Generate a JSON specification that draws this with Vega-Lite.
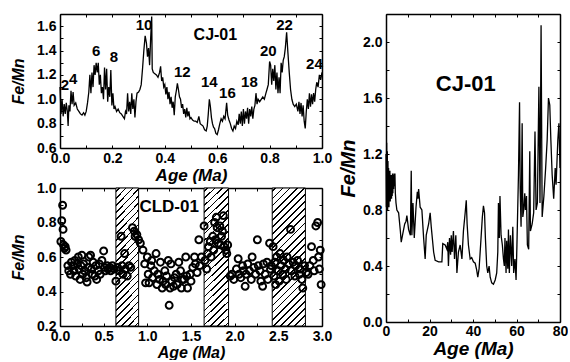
{
"$schema":"https://vega.github.io/schema/vega-lite/v6.json",
"padding":{"left":10,"top":7,"right":0,"bottom":0},
"background":"white",
"config":{
 "view":{"stroke":null},
 "axis":{"domainColor":"black","domainWidth":1.5,"tickColor":"black","tickWidth":1,"tickSize":-3,"grid":false,"labelFlush":false,"labelOverlap":false,"labelFont":"Liberation Sans","labelFontWeight":"bold","labelFontSize":14,"labelColor":"black","titleFont":"Liberation Sans","titleFontWeight":"bold","titleFontStyle":"italic","titleColor":"black"},
 "text":{"font":"Liberation Sans","fontWeight":"bold","color":"black"}
},
"datasets":{
 "cjshort":[{"age":0,"ratio":1.1},{"age":0.004,"ratio":0.88},{"age":0.008,"ratio":1.0},{"age":0.012,"ratio":0.86},{"age":0.016,"ratio":0.96},{"age":0.02,"ratio":0.88},{"age":0.024,"ratio":0.97},{"age":0.028,"ratio":0.9},{"age":0.031,"ratio":0.78},{"age":0.034,"ratio":0.95},{"age":0.038,"ratio":0.9},{"age":0.042,"ratio":1.07},{"age":0.046,"ratio":0.96},{"age":0.05,"ratio":1.06},{"age":0.054,"ratio":0.95},{"age":0.06,"ratio":0.97},{"age":0.066,"ratio":0.92},{"age":0.072,"ratio":0.9},{"age":0.078,"ratio":0.88},{"age":0.084,"ratio":0.87},{"age":0.09,"ratio":0.89},{"age":0.095,"ratio":0.87},{"age":0.1,"ratio":0.9},{"age":0.105,"ratio":0.97},{"age":0.11,"ratio":1.06},{"age":0.114,"ratio":1.2},{"age":0.118,"ratio":1.05},{"age":0.122,"ratio":1.22},{"age":0.126,"ratio":1.1},{"age":0.13,"ratio":1.28},{"age":0.134,"ratio":1.2},{"age":0.138,"ratio":1.3},{"age":0.142,"ratio":1.22},{"age":0.146,"ratio":1.3},{"age":0.15,"ratio":1.12},{"age":0.154,"ratio":1.2},{"age":0.158,"ratio":1.05},{"age":0.162,"ratio":1.1},{"age":0.166,"ratio":1.0},{"age":0.17,"ratio":1.26},{"age":0.174,"ratio":1.08},{"age":0.178,"ratio":1.25},{"age":0.182,"ratio":0.98},{"age":0.186,"ratio":1.1},{"age":0.19,"ratio":1.02},{"age":0.194,"ratio":1.24},{"age":0.198,"ratio":0.95},{"age":0.202,"ratio":1.05},{"age":0.206,"ratio":0.92},{"age":0.21,"ratio":0.94},{"age":0.216,"ratio":0.9},{"age":0.222,"ratio":0.92},{"age":0.228,"ratio":0.89},{"age":0.234,"ratio":0.88},{"age":0.24,"ratio":0.86},{"age":0.246,"ratio":0.84},{"age":0.25,"ratio":0.9},{"age":0.254,"ratio":0.88},{"age":0.258,"ratio":1.05},{"age":0.262,"ratio":0.9},{"age":0.266,"ratio":0.98},{"age":0.27,"ratio":0.88},{"age":0.274,"ratio":1.05},{"age":0.278,"ratio":0.92},{"age":0.282,"ratio":1.0},{"age":0.286,"ratio":0.85},{"age":0.29,"ratio":0.98},{"age":0.294,"ratio":1.05},{"age":0.3,"ratio":1.06},{"age":0.305,"ratio":1.08},{"age":0.31,"ratio":1.12},{"age":0.315,"ratio":1.25},{"age":0.32,"ratio":1.4},{"age":0.325,"ratio":1.52},{"age":0.33,"ratio":1.46},{"age":0.334,"ratio":1.35},{"age":0.338,"ratio":1.42},{"age":0.342,"ratio":1.28},{"age":0.346,"ratio":1.5},{"age":0.35,"ratio":1.68},{"age":0.352,"ratio":1.25},{"age":0.356,"ratio":1.22},{"age":0.362,"ratio":1.21},{"age":0.368,"ratio":1.2},{"age":0.374,"ratio":1.18},{"age":0.38,"ratio":1.22},{"age":0.384,"ratio":1.27},{"age":0.388,"ratio":1.15},{"age":0.392,"ratio":1.18},{"age":0.396,"ratio":1.1},{"age":0.4,"ratio":1.12},{"age":0.404,"ratio":1.04},{"age":0.408,"ratio":1.1},{"age":0.412,"ratio":1.0},{"age":0.416,"ratio":1.06},{"age":0.42,"ratio":0.96},{"age":0.424,"ratio":1.02},{"age":0.428,"ratio":0.93},{"age":0.432,"ratio":0.98},{"age":0.436,"ratio":0.87},{"age":0.44,"ratio":1.02},{"age":0.444,"ratio":1.07},{"age":0.448,"ratio":1.13},{"age":0.452,"ratio":1.08},{"age":0.456,"ratio":1.02},{"age":0.46,"ratio":1.0},{"age":0.464,"ratio":0.93},{"age":0.468,"ratio":0.96},{"age":0.472,"ratio":0.88},{"age":0.476,"ratio":0.92},{"age":0.48,"ratio":0.85},{"age":0.484,"ratio":0.93},{"age":0.488,"ratio":0.86},{"age":0.492,"ratio":0.9},{"age":0.496,"ratio":0.84},{"age":0.5,"ratio":0.85},{"age":0.506,"ratio":0.83},{"age":0.512,"ratio":0.82},{"age":0.518,"ratio":0.82},{"age":0.524,"ratio":0.81},{"age":0.53,"ratio":0.86},{"age":0.535,"ratio":0.8},{"age":0.54,"ratio":0.79},{"age":0.546,"ratio":0.78},{"age":0.552,"ratio":0.75},{"age":0.558,"ratio":0.74},{"age":0.562,"ratio":0.78},{"age":0.566,"ratio":0.88},{"age":0.57,"ratio":1.0},{"age":0.574,"ratio":0.94},{"age":0.578,"ratio":0.85},{"age":0.582,"ratio":0.8},{"age":0.586,"ratio":0.77},{"age":0.59,"ratio":0.76},{"age":0.595,"ratio":0.72},{"age":0.6,"ratio":0.71},{"age":0.605,"ratio":0.75},{"age":0.61,"ratio":0.8},{"age":0.615,"ratio":0.84},{"age":0.62,"ratio":0.82},{"age":0.625,"ratio":0.86},{"age":0.63,"ratio":0.84},{"age":0.636,"ratio":0.97},{"age":0.64,"ratio":0.87},{"age":0.645,"ratio":0.83},{"age":0.65,"ratio":0.8},{"age":0.655,"ratio":0.76},{"age":0.66,"ratio":0.74},{"age":0.665,"ratio":0.78},{"age":0.67,"ratio":0.76},{"age":0.675,"ratio":0.82},{"age":0.68,"ratio":0.79},{"age":0.684,"ratio":0.88},{"age":0.688,"ratio":0.8},{"age":0.692,"ratio":0.9},{"age":0.696,"ratio":0.78},{"age":0.7,"ratio":0.92},{"age":0.704,"ratio":0.8},{"age":0.708,"ratio":0.9},{"age":0.712,"ratio":0.84},{"age":0.716,"ratio":0.93},{"age":0.72,"ratio":0.8},{"age":0.724,"ratio":0.92},{"age":0.728,"ratio":0.86},{"age":0.732,"ratio":0.94},{"age":0.736,"ratio":0.84},{"age":0.74,"ratio":0.92},{"age":0.744,"ratio":0.95},{"age":0.748,"ratio":1.05},{"age":0.752,"ratio":0.96},{"age":0.756,"ratio":1.0},{"age":0.762,"ratio":0.98},{"age":0.768,"ratio":1.0},{"age":0.774,"ratio":1.02},{"age":0.78,"ratio":1.0},{"age":0.786,"ratio":1.05},{"age":0.79,"ratio":1.08},{"age":0.795,"ratio":1.12},{"age":0.8,"ratio":1.31},{"age":0.804,"ratio":1.28},{"age":0.808,"ratio":1.12},{"age":0.812,"ratio":1.25},{"age":0.816,"ratio":1.15},{"age":0.82,"ratio":1.28},{"age":0.824,"ratio":1.08},{"age":0.828,"ratio":1.22},{"age":0.832,"ratio":1.05},{"age":0.836,"ratio":1.18},{"age":0.84,"ratio":1.05},{"age":0.844,"ratio":1.3},{"age":0.848,"ratio":1.22},{"age":0.852,"ratio":1.32},{"age":0.856,"ratio":1.35},{"age":0.86,"ratio":1.42},{"age":0.865,"ratio":1.55},{"age":0.87,"ratio":1.38},{"age":0.875,"ratio":1.22},{"age":0.88,"ratio":1.08},{"age":0.885,"ratio":1.0},{"age":0.89,"ratio":0.96},{"age":0.896,"ratio":0.94},{"age":0.902,"ratio":0.96},{"age":0.908,"ratio":0.9},{"age":0.912,"ratio":0.98},{"age":0.916,"ratio":0.88},{"age":0.92,"ratio":0.97},{"age":0.924,"ratio":0.86},{"age":0.928,"ratio":0.95},{"age":0.932,"ratio":0.82},{"age":0.936,"ratio":0.76},{"age":0.94,"ratio":0.9},{"age":0.944,"ratio":1.0},{"age":0.948,"ratio":0.92},{"age":0.952,"ratio":1.05},{"age":0.956,"ratio":0.94},{"age":0.96,"ratio":1.04},{"age":0.964,"ratio":0.96},{"age":0.968,"ratio":1.05},{"age":0.972,"ratio":0.98},{"age":0.976,"ratio":1.08},{"age":0.98,"ratio":1.14},{"age":0.985,"ratio":1.1},{"age":0.99,"ratio":1.2},{"age":0.995,"ratio":1.16},{"age":1.0,"ratio":1.22}],
 "peaks":[{"age":0.019,"ratio":1.115,"label":"2"},{"age":0.05,"ratio":1.17,"label":"4"},{"age":0.138,"ratio":1.4,"label":"6"},{"age":0.206,"ratio":1.35,"label":"8"},{"age":0.321,"ratio":1.61,"label":"10"},{"age":0.467,"ratio":1.22,"label":"12"},{"age":0.57,"ratio":1.14,"label":"14"},{"age":0.639,"ratio":1.05,"label":"16"},{"age":0.723,"ratio":1.14,"label":"18"},{"age":0.795,"ratio":1.4,"label":"20"},{"age":0.857,"ratio":1.61,"label":"22"},{"age":0.971,"ratio":1.29,"label":"24"}],
 "cjlabel1":[{"age":0.593,"ratio":1.53,"label":"CJ-01"}],
 "cld":[{"age":0.01,"ratio":0.69},{"age":0.02,"ratio":0.81},{"age":0.03,"ratio":0.9},{"age":0.035,"ratio":0.76},{"age":0.04,"ratio":0.67},{"age":0.05,"ratio":0.65},{"age":0.06,"ratio":0.66},{"age":0.07,"ratio":0.64},{"age":0.09,"ratio":0.55},{"age":0.1,"ratio":0.52},{"age":0.12,"ratio":0.5},{"age":0.13,"ratio":0.57},{"age":0.15,"ratio":0.55},{"age":0.16,"ratio":0.52},{"age":0.17,"ratio":0.58},{"age":0.18,"ratio":0.49},{"age":0.2,"ratio":0.56},{"age":0.21,"ratio":0.6},{"age":0.22,"ratio":0.53},{"age":0.23,"ratio":0.47},{"age":0.24,"ratio":0.55},{"age":0.25,"ratio":0.61},{"age":0.26,"ratio":0.5},{"age":0.27,"ratio":0.56},{"age":0.28,"ratio":0.52},{"age":0.3,"ratio":0.48},{"age":0.31,"ratio":0.455},{"age":0.32,"ratio":0.54},{"age":0.33,"ratio":0.6},{"age":0.35,"ratio":0.61},{"age":0.36,"ratio":0.53},{"age":0.37,"ratio":0.5},{"age":0.38,"ratio":0.57},{"age":0.4,"ratio":0.49},{"age":0.41,"ratio":0.55},{"age":0.42,"ratio":0.47},{"age":0.44,"ratio":0.52},{"age":0.45,"ratio":0.56},{"age":0.46,"ratio":0.5},{"age":0.48,"ratio":0.58},{"age":0.5,"ratio":0.635},{"age":0.51,"ratio":0.54},{"age":0.52,"ratio":0.52},{"age":0.54,"ratio":0.55},{"age":0.55,"ratio":0.53},{"age":0.57,"ratio":0.54},{"age":0.58,"ratio":0.52},{"age":0.6,"ratio":0.55},{"age":0.62,"ratio":0.53},{"age":0.64,"ratio":0.46},{"age":0.66,"ratio":0.54},{"age":0.68,"ratio":0.52},{"age":0.7,"ratio":0.72},{"age":0.71,"ratio":0.55},{"age":0.72,"ratio":0.5},{"age":0.74,"ratio":0.62},{"age":0.75,"ratio":0.53},{"age":0.77,"ratio":0.49},{"age":0.79,"ratio":0.55},{"age":0.81,"ratio":0.54},{"age":0.83,"ratio":0.77},{"age":0.85,"ratio":0.75},{"age":0.86,"ratio":0.72},{"age":0.88,"ratio":0.73},{"age":0.9,"ratio":0.7},{"age":0.92,"ratio":0.68},{"age":0.95,"ratio":0.64},{"age":0.97,"ratio":0.56},{"age":0.98,"ratio":0.45},{"age":1.0,"ratio":0.6},{"age":1.01,"ratio":0.5},{"age":1.02,"ratio":0.45},{"age":1.04,"ratio":0.55},{"age":1.05,"ratio":0.58},{"age":1.06,"ratio":0.48},{"age":1.08,"ratio":0.52},{"age":1.1,"ratio":0.62},{"age":1.11,"ratio":0.44},{"age":1.12,"ratio":0.5},{"age":1.14,"ratio":0.47},{"age":1.15,"ratio":0.57},{"age":1.17,"ratio":0.42},{"age":1.18,"ratio":0.46},{"age":1.2,"ratio":0.52},{"age":1.21,"ratio":0.44},{"age":1.22,"ratio":0.49},{"age":1.24,"ratio":0.58},{"age":1.25,"ratio":0.32},{"age":1.26,"ratio":0.42},{"age":1.27,"ratio":0.56},{"age":1.28,"ratio":0.46},{"age":1.3,"ratio":0.43},{"age":1.31,"ratio":0.48},{"age":1.33,"ratio":0.5},{"age":1.34,"ratio":0.44},{"age":1.36,"ratio":0.57},{"age":1.38,"ratio":0.52},{"age":1.39,"ratio":0.42},{"age":1.4,"ratio":0.47},{"age":1.42,"ratio":0.47},{"age":1.44,"ratio":0.6},{"age":1.45,"ratio":0.49},{"age":1.46,"ratio":0.42},{"age":1.49,"ratio":0.5},{"age":1.5,"ratio":0.46},{"age":1.52,"ratio":0.54},{"age":1.54,"ratio":0.6},{"age":1.55,"ratio":0.56},{"age":1.57,"ratio":0.51},{"age":1.59,"ratio":0.7},{"age":1.6,"ratio":0.55},{"age":1.62,"ratio":0.6},{"age":1.65,"ratio":0.78},{"age":1.66,"ratio":0.58},{"age":1.68,"ratio":0.53},{"age":1.69,"ratio":0.62},{"age":1.7,"ratio":0.66},{"age":1.72,"ratio":0.69},{"age":1.73,"ratio":0.6},{"age":1.75,"ratio":0.72},{"age":1.76,"ratio":0.64},{"age":1.77,"ratio":0.8},{"age":1.78,"ratio":0.7},{"age":1.79,"ratio":0.83},{"age":1.8,"ratio":0.77},{"age":1.81,"ratio":0.68},{"age":1.83,"ratio":0.78},{"age":1.84,"ratio":0.67},{"age":1.85,"ratio":0.72},{"age":1.86,"ratio":0.75},{"age":1.87,"ratio":0.84},{"age":1.88,"ratio":0.66},{"age":1.9,"ratio":0.64},{"age":1.91,"ratio":0.62},{"age":1.92,"ratio":0.67},{"age":1.95,"ratio":0.49},{"age":1.97,"ratio":0.5},{"age":1.99,"ratio":0.47},{"age":2.02,"ratio":0.53},{"age":2.04,"ratio":0.59},{"age":2.05,"ratio":0.5},{"age":2.07,"ratio":0.48},{"age":2.09,"ratio":0.55},{"age":2.1,"ratio":0.52},{"age":2.12,"ratio":0.43},{"age":2.13,"ratio":0.5},{"age":2.15,"ratio":0.56},{"age":2.17,"ratio":0.52},{"age":2.19,"ratio":0.47},{"age":2.2,"ratio":0.6},{"age":2.22,"ratio":0.54},{"age":2.24,"ratio":0.5},{"age":2.26,"ratio":0.7},{"age":2.27,"ratio":0.55},{"age":2.29,"ratio":0.52},{"age":2.3,"ratio":0.46},{"age":2.32,"ratio":0.43},{"age":2.33,"ratio":0.56},{"age":2.35,"ratio":0.5},{"age":2.37,"ratio":0.57},{"age":2.38,"ratio":0.47},{"age":2.4,"ratio":0.68},{"age":2.41,"ratio":0.53},{"age":2.42,"ratio":0.55},{"age":2.44,"ratio":0.66},{"age":2.45,"ratio":0.49},{"age":2.46,"ratio":0.57},{"age":2.47,"ratio":0.44},{"age":2.48,"ratio":0.6},{"age":2.5,"ratio":0.52},{"age":2.51,"ratio":0.46},{"age":2.52,"ratio":0.62},{"age":2.53,"ratio":0.55},{"age":2.55,"ratio":0.5},{"age":2.56,"ratio":0.58},{"age":2.58,"ratio":0.53},{"age":2.59,"ratio":0.47},{"age":2.6,"ratio":0.6},{"age":2.62,"ratio":0.56},{"age":2.64,"ratio":0.76},{"age":2.65,"ratio":0.52},{"age":2.67,"ratio":0.57},{"age":2.69,"ratio":0.49},{"age":2.7,"ratio":0.55},{"age":2.72,"ratio":0.58},{"age":2.74,"ratio":0.5},{"age":2.75,"ratio":0.53},{"age":2.77,"ratio":0.47},{"age":2.78,"ratio":0.42},{"age":2.8,"ratio":0.55},{"age":2.82,"ratio":0.51},{"age":2.84,"ratio":0.5},{"age":2.86,"ratio":0.55},{"age":2.88,"ratio":0.66},{"age":2.9,"ratio":0.58},{"age":2.91,"ratio":0.52},{"age":2.93,"ratio":0.78},{"age":2.95,"ratio":0.8},{"age":2.96,"ratio":0.6},{"age":2.97,"ratio":0.53},{"age":2.98,"ratio":0.64},{"age":2.99,"ratio":0.44}],
 "bandsA":[{"start":0.64,"end":0.9},{"start":1.65,"end":1.93}],
 "bandsB":[{"start":2.43,"end":2.81}],
 "cldlabel":[{"age":1.25,"ratio":0.888,"label":"CLD-01"}],
 "cjlong":[{"age":0,"ratio":1.2},{"age":0.15,"ratio":0.82},{"age":0.3,"ratio":1.28},{"age":0.45,"ratio":0.85},{"age":0.6,"ratio":1.22},{"age":0.75,"ratio":0.8},{"age":0.9,"ratio":1.15},{"age":1.05,"ratio":0.85},{"age":1.2,"ratio":1.1},{"age":1.35,"ratio":0.82},{"age":1.5,"ratio":1.05},{"age":1.65,"ratio":0.88},{"age":1.8,"ratio":1.08},{"age":1.95,"ratio":0.86},{"age":2.1,"ratio":1.02},{"age":2.25,"ratio":0.9},{"age":2.4,"ratio":1.05},{"age":2.55,"ratio":0.88},{"age":2.7,"ratio":1.04},{"age":2.85,"ratio":0.9},{"age":3.0,"ratio":1.06},{"age":3.15,"ratio":0.92},{"age":3.3,"ratio":1.05},{"age":3.5,"ratio":0.95},{"age":3.7,"ratio":1.06},{"age":3.9,"ratio":0.97},{"age":4.1,"ratio":1.06},{"age":4.3,"ratio":0.92},{"age":4.6,"ratio":0.85},{"age":5.0,"ratio":0.8},{"age":5.8,"ratio":0.78},{"age":6.6,"ratio":0.65},{"age":7.0,"ratio":0.57},{"age":7.6,"ratio":0.62},{"age":8.6,"ratio":0.7},{"age":9.2,"ratio":0.72},{"age":9.6,"ratio":0.76},{"age":10.4,"ratio":0.66},{"age":11.2,"ratio":0.62},{"age":11.6,"ratio":1.08},{"age":11.9,"ratio":0.62},{"age":12.4,"ratio":0.85},{"age":13.0,"ratio":0.6},{"age":13.8,"ratio":0.82},{"age":14.4,"ratio":0.93},{"age":14.7,"ratio":0.88},{"age":15.0,"ratio":0.95},{"age":15.7,"ratio":0.82},{"age":16.5,"ratio":0.8},{"age":17.3,"ratio":0.6},{"age":18.0,"ratio":0.45},{"age":18.5,"ratio":0.62},{"age":19.6,"ratio":0.7},{"age":20.3,"ratio":0.78},{"age":20.8,"ratio":0.68},{"age":21.9,"ratio":0.5},{"age":22.6,"ratio":0.44},{"age":24.2,"ratio":0.43},{"age":25.7,"ratio":0.43},{"age":26.1,"ratio":0.56},{"age":27.2,"ratio":0.55},{"age":28.0,"ratio":0.52},{"age":28.4,"ratio":0.57},{"age":28.7,"ratio":0.4},{"age":29.2,"ratio":0.6},{"age":29.7,"ratio":0.48},{"age":30.0,"ratio":0.62},{"age":30.4,"ratio":0.5},{"age":31.0,"ratio":0.65},{"age":31.5,"ratio":0.45},{"age":32.1,"ratio":0.62},{"age":32.6,"ratio":0.35},{"age":33.3,"ratio":0.5},{"age":34.1,"ratio":0.55},{"age":34.9,"ratio":0.45},{"age":35.6,"ratio":0.65},{"age":36.4,"ratio":0.78},{"age":36.9,"ratio":0.87},{"age":37.3,"ratio":0.7},{"age":37.9,"ratio":0.55},{"age":38.7,"ratio":0.45},{"age":39.4,"ratio":0.46},{"age":40.2,"ratio":0.43},{"age":41.0,"ratio":0.42},{"age":41.7,"ratio":0.37},{"age":42.2,"ratio":0.32},{"age":42.8,"ratio":0.38},{"age":43.7,"ratio":0.6},{"age":44.3,"ratio":0.75},{"age":44.8,"ratio":0.83},{"age":45.3,"ratio":0.78},{"age":45.7,"ratio":0.6},{"age":46.3,"ratio":0.4},{"age":46.8,"ratio":0.35},{"age":47.4,"ratio":0.4},{"age":47.9,"ratio":0.32},{"age":48.6,"ratio":0.28},{"age":49.4,"ratio":0.27},{"age":50.2,"ratio":0.3},{"age":50.9,"ratio":0.35},{"age":51.4,"ratio":0.5},{"age":51.7,"ratio":0.85},{"age":52.1,"ratio":0.6},{"age":52.4,"ratio":0.9},{"age":52.9,"ratio":0.62},{"age":53.5,"ratio":0.55},{"age":54.0,"ratio":0.45},{"age":54.4,"ratio":0.4},{"age":54.7,"ratio":0.6},{"age":55.2,"ratio":0.35},{"age":55.5,"ratio":0.58},{"age":56.0,"ratio":0.38},{"age":56.3,"ratio":0.66},{"age":56.7,"ratio":0.35},{"age":57.2,"ratio":0.62},{"age":57.8,"ratio":0.4},{"age":58.3,"ratio":0.68},{"age":58.7,"ratio":0.35},{"age":59.3,"ratio":0.45},{"age":59.8,"ratio":0.3},{"age":60.2,"ratio":0.55},{"age":60.9,"ratio":1.05},{"age":61.4,"ratio":1.57},{"age":61.7,"ratio":0.95},{"age":62.1,"ratio":0.68},{"age":62.6,"ratio":1.42},{"age":62.9,"ratio":0.75},{"age":63.3,"ratio":0.8},{"age":63.8,"ratio":0.92},{"age":64.1,"ratio":0.8},{"age":64.6,"ratio":0.9},{"age":65.0,"ratio":0.55},{"age":65.6,"ratio":0.52},{"age":66.1,"ratio":1.22},{"age":66.4,"ratio":0.65},{"age":67.2,"ratio":0.7},{"age":67.9,"ratio":0.78},{"age":68.5,"ratio":1.36},{"age":69.0,"ratio":0.8},{"age":69.6,"ratio":0.85},{"age":70.3,"ratio":1.68},{"age":70.8,"ratio":0.85},{"age":71.3,"ratio":2.12},{"age":71.8,"ratio":0.75},{"age":72.6,"ratio":0.9},{"age":73.4,"ratio":1.1},{"age":74.1,"ratio":1.3},{"age":74.7,"ratio":1.6},{"age":75.3,"ratio":1.55},{"age":75.8,"ratio":1.3},{"age":76.4,"ratio":1.05},{"age":77.1,"ratio":0.88},{"age":77.8,"ratio":1.1},{"age":78.2,"ratio":0.98},{"age":79.0,"ratio":1.3},{"age":79.5,"ratio":1.42},{"age":80,"ratio":1.1}],
 "cjlabel2":[{"age":36.7,"ratio":1.7,"label":"CJ-01"}]
},
"hconcat":[
 {"vconcat":[
  {"width":262,"height":134,
   "layer":[
    {"data":{"name":"cjshort"},"mark":{"type":"line","color":"black","strokeWidth":1.3},
     "encoding":{
      "x":{"field":"age","type":"quantitative","scale":{"domain":[0,1],"nice":false,"zero":false},
           "axis":{"orient":"bottom","values":[0,0.1,0.2,0.3,0.4,0.5,0.6,0.7,0.8,0.9,1.0],"labelExpr":"round(datum.value*10)%2===0 ? format(datum.value,'.1f') : ''","title":"Age (Ma)","titleFontSize":17,"labelPadding":6,"titlePadding":2}},
      "y":{"field":"ratio","type":"quantitative","scale":{"domain":[0.6,1.7],"nice":false,"zero":false},
           "axis":{"orient":"left","values":[0.6,0.7,0.8,0.9,1.0,1.1,1.2,1.3,1.4,1.5,1.6,1.7],"labelExpr":"round(datum.value*10)%2===0 ? format(datum.value,'.1f') : ''","title":"Fe/Mn","titleFontSize":16,"labelPadding":7,"titlePadding":10}}}},
    {"data":{"name":"peaks"},"mark":{"type":"text","fontSize":15},
     "encoding":{
      "x":{"field":"age","type":"quantitative","axis":{"orient":"top","values":[0,0.1,0.2,0.3,0.4,0.5,0.6,0.7,0.8,0.9,1.0],"labels":false,"title":null}},
      "y":{"field":"ratio","type":"quantitative","axis":{"orient":"right","values":[0.6,0.7,0.8,0.9,1.0,1.1,1.2,1.3,1.4,1.5,1.6,1.7],"labels":false,"title":null}},
      "text":{"field":"label"}}},
    {"data":{"name":"cjlabel1"},"mark":{"type":"text","fontSize":16},
     "encoding":{"x":{"field":"age","type":"quantitative","axis":null},"y":{"field":"ratio","type":"quantitative","axis":null},"text":{"field":"label"}}}
   ]},
  {"width":262,"height":138,
   "layer":[
    {"data":{"name":"bandsA"},"mark":{"type":"rect","stroke":"black","strokeWidth":1,
      "fill":{"gradient":"linear","x1":0,"y1":0,"x2":0.194,"y2":1.137,"stops":[
{"offset":0,"color":"#fff"},
{"offset":0.017,"color":"#fff"},{"offset":0.017,"color":"#000"},{"offset":0.027,"color":"#000"},{"offset":0.027,"color":"#fff"},
{"offset":0.060,"color":"#fff"},{"offset":0.060,"color":"#000"},{"offset":0.070,"color":"#000"},{"offset":0.070,"color":"#fff"},
{"offset":0.104,"color":"#fff"},{"offset":0.104,"color":"#000"},{"offset":0.114,"color":"#000"},{"offset":0.114,"color":"#fff"},
{"offset":0.147,"color":"#fff"},{"offset":0.147,"color":"#000"},{"offset":0.157,"color":"#000"},{"offset":0.157,"color":"#fff"},
{"offset":0.191,"color":"#fff"},{"offset":0.191,"color":"#000"},{"offset":0.201,"color":"#000"},{"offset":0.201,"color":"#fff"},
{"offset":0.234,"color":"#fff"},{"offset":0.234,"color":"#000"},{"offset":0.244,"color":"#000"},{"offset":0.244,"color":"#fff"},
{"offset":0.278,"color":"#fff"},{"offset":0.278,"color":"#000"},{"offset":0.288,"color":"#000"},{"offset":0.288,"color":"#fff"},
{"offset":0.321,"color":"#fff"},{"offset":0.321,"color":"#000"},{"offset":0.331,"color":"#000"},{"offset":0.331,"color":"#fff"},
{"offset":0.365,"color":"#fff"},{"offset":0.365,"color":"#000"},{"offset":0.375,"color":"#000"},{"offset":0.375,"color":"#fff"},
{"offset":0.408,"color":"#fff"},{"offset":0.408,"color":"#000"},{"offset":0.418,"color":"#000"},{"offset":0.418,"color":"#fff"},
{"offset":0.452,"color":"#fff"},{"offset":0.452,"color":"#000"},{"offset":0.462,"color":"#000"},{"offset":0.462,"color":"#fff"},
{"offset":0.495,"color":"#fff"},{"offset":0.495,"color":"#000"},{"offset":0.505,"color":"#000"},{"offset":0.505,"color":"#fff"},
{"offset":0.538,"color":"#fff"},{"offset":0.538,"color":"#000"},{"offset":0.548,"color":"#000"},{"offset":0.548,"color":"#fff"},
{"offset":0.582,"color":"#fff"},{"offset":0.582,"color":"#000"},{"offset":0.592,"color":"#000"},{"offset":0.592,"color":"#fff"},
{"offset":0.625,"color":"#fff"},{"offset":0.625,"color":"#000"},{"offset":0.635,"color":"#000"},{"offset":0.635,"color":"#fff"},
{"offset":0.669,"color":"#fff"},{"offset":0.669,"color":"#000"},{"offset":0.679,"color":"#000"},{"offset":0.679,"color":"#fff"},
{"offset":0.712,"color":"#fff"},{"offset":0.712,"color":"#000"},{"offset":0.722,"color":"#000"},{"offset":0.722,"color":"#fff"},
{"offset":0.756,"color":"#fff"},{"offset":0.756,"color":"#000"},{"offset":0.766,"color":"#000"},{"offset":0.766,"color":"#fff"},
{"offset":0.799,"color":"#fff"},{"offset":0.799,"color":"#000"},{"offset":0.809,"color":"#000"},{"offset":0.809,"color":"#fff"},
{"offset":0.843,"color":"#fff"},{"offset":0.843,"color":"#000"},{"offset":0.853,"color":"#000"},{"offset":0.853,"color":"#fff"},
{"offset":0.886,"color":"#fff"},{"offset":0.886,"color":"#000"},{"offset":0.896,"color":"#000"},{"offset":0.896,"color":"#fff"},
{"offset":0.930,"color":"#fff"},{"offset":0.930,"color":"#000"},{"offset":0.940,"color":"#000"},{"offset":0.940,"color":"#fff"},
{"offset":0.973,"color":"#fff"},{"offset":0.973,"color":"#000"},{"offset":0.983,"color":"#000"},{"offset":0.983,"color":"#fff"},
{"offset":1,"color":"#fff"}]}},
     "encoding":{"x":{"field":"start","type":"quantitative","scale":{"domain":[0,3],"nice":false,"zero":false},"axis":null},"x2":{"field":"end"}}},
    {"data":{"name":"bandsB"},"mark":{"type":"rect","stroke":"black","strokeWidth":1,
      "fill":{"gradient":"linear","x1":0,"y1":0,"x2":0.282,"y2":1.173,"stops":[
{"offset":0,"color":"#fff"},
{"offset":0.016,"color":"#fff"},{"offset":0.016,"color":"#000"},{"offset":0.026,"color":"#000"},{"offset":0.026,"color":"#fff"},
{"offset":0.058,"color":"#fff"},{"offset":0.058,"color":"#000"},{"offset":0.068,"color":"#000"},{"offset":0.068,"color":"#fff"},
{"offset":0.099,"color":"#fff"},{"offset":0.099,"color":"#000"},{"offset":0.109,"color":"#000"},{"offset":0.109,"color":"#fff"},
{"offset":0.141,"color":"#fff"},{"offset":0.141,"color":"#000"},{"offset":0.151,"color":"#000"},{"offset":0.151,"color":"#fff"},
{"offset":0.183,"color":"#fff"},{"offset":0.183,"color":"#000"},{"offset":0.193,"color":"#000"},{"offset":0.193,"color":"#fff"},
{"offset":0.224,"color":"#fff"},{"offset":0.224,"color":"#000"},{"offset":0.234,"color":"#000"},{"offset":0.234,"color":"#fff"},
{"offset":0.266,"color":"#fff"},{"offset":0.266,"color":"#000"},{"offset":0.276,"color":"#000"},{"offset":0.276,"color":"#fff"},
{"offset":0.308,"color":"#fff"},{"offset":0.308,"color":"#000"},{"offset":0.318,"color":"#000"},{"offset":0.318,"color":"#fff"},
{"offset":0.349,"color":"#fff"},{"offset":0.349,"color":"#000"},{"offset":0.359,"color":"#000"},{"offset":0.359,"color":"#fff"},
{"offset":0.391,"color":"#fff"},{"offset":0.391,"color":"#000"},{"offset":0.401,"color":"#000"},{"offset":0.401,"color":"#fff"},
{"offset":0.433,"color":"#fff"},{"offset":0.433,"color":"#000"},{"offset":0.443,"color":"#000"},{"offset":0.443,"color":"#fff"},
{"offset":0.474,"color":"#fff"},{"offset":0.474,"color":"#000"},{"offset":0.484,"color":"#000"},{"offset":0.484,"color":"#fff"},
{"offset":0.516,"color":"#fff"},{"offset":0.516,"color":"#000"},{"offset":0.526,"color":"#000"},{"offset":0.526,"color":"#fff"},
{"offset":0.558,"color":"#fff"},{"offset":0.558,"color":"#000"},{"offset":0.568,"color":"#000"},{"offset":0.568,"color":"#fff"},
{"offset":0.599,"color":"#fff"},{"offset":0.599,"color":"#000"},{"offset":0.609,"color":"#000"},{"offset":0.609,"color":"#fff"},
{"offset":0.641,"color":"#fff"},{"offset":0.641,"color":"#000"},{"offset":0.651,"color":"#000"},{"offset":0.651,"color":"#fff"},
{"offset":0.683,"color":"#fff"},{"offset":0.683,"color":"#000"},{"offset":0.693,"color":"#000"},{"offset":0.693,"color":"#fff"},
{"offset":0.724,"color":"#fff"},{"offset":0.724,"color":"#000"},{"offset":0.734,"color":"#000"},{"offset":0.734,"color":"#fff"},
{"offset":0.766,"color":"#fff"},{"offset":0.766,"color":"#000"},{"offset":0.776,"color":"#000"},{"offset":0.776,"color":"#fff"},
{"offset":0.808,"color":"#fff"},{"offset":0.808,"color":"#000"},{"offset":0.818,"color":"#000"},{"offset":0.818,"color":"#fff"},
{"offset":0.849,"color":"#fff"},{"offset":0.849,"color":"#000"},{"offset":0.859,"color":"#000"},{"offset":0.859,"color":"#fff"},
{"offset":0.891,"color":"#fff"},{"offset":0.891,"color":"#000"},{"offset":0.901,"color":"#000"},{"offset":0.901,"color":"#fff"},
{"offset":0.933,"color":"#fff"},{"offset":0.933,"color":"#000"},{"offset":0.943,"color":"#000"},{"offset":0.943,"color":"#fff"},
{"offset":0.974,"color":"#fff"},{"offset":0.974,"color":"#000"},{"offset":0.984,"color":"#000"},{"offset":0.984,"color":"#fff"},
{"offset":1,"color":"#fff"}]}},
     "encoding":{"x":{"field":"start","type":"quantitative","axis":null},"x2":{"field":"end"}}},
    {"data":{"name":"cld"},"mark":{"type":"point","shape":"circle","filled":false,"color":"black","strokeWidth":2,"size":48,"opacity":1},
     "encoding":{
      "x":{"field":"age","type":"quantitative","axis":{"orient":"bottom","values":[0,0.25,0.5,0.75,1,1.25,1.5,1.75,2,2.25,2.5,2.75,3],"labelExpr":"round(datum.value*4)%2===0 ? format(datum.value,'.1f') : ''","title":"Age (Ma)","titleFontSize":16,"labelPadding":6,"titlePadding":1}},
      "y":{"field":"ratio","type":"quantitative","scale":{"domain":[0.2,1.0],"nice":false,"zero":false},
           "axis":{"orient":"left","values":[0.2,0.3,0.4,0.5,0.6,0.7,0.8,0.9,1.0],"labelExpr":"round(datum.value*10)%2===0 ? format(datum.value,'.1f') : ''","title":"Fe/Mn","titleFontSize":16,"labelPadding":7,"titlePadding":10}}}},
    {"data":{"name":"cldlabel"},"mark":{"type":"text","fontSize":17},
     "encoding":{
      "x":{"field":"age","type":"quantitative","axis":{"orient":"top","values":[0,0.25,0.5,0.75,1,1.25,1.5,1.75,2,2.25,2.5,2.75,3],"labels":false,"title":null}},
      "y":{"field":"ratio","type":"quantitative","axis":{"orient":"right","values":[0.2,0.3,0.4,0.5,0.6,0.7,0.8,0.9,1.0],"labels":false,"title":null}},
      "text":{"field":"label"}}}
   ]}
 ],"spacing":40,"bounds":"flush"},
 {"width":174,"height":308,
  "layer":[
   {"data":{"name":"cjlong"},"mark":{"type":"line","color":"black","strokeWidth":1.3},
    "encoding":{
     "x":{"field":"age","type":"quantitative","scale":{"domain":[0,80],"nice":false,"zero":false},
          "axis":{"orient":"bottom","values":[0,10,20,30,40,50,60,70,80],"labelExpr":"datum.value%20===0 ? format(datum.value,'d') : ''","title":"Age (Ma)","titleFontSize":19,"labelPadding":5,"titlePadding":1}},
     "y":{"field":"ratio","type":"quantitative","scale":{"domain":[0,2.2],"nice":false,"zero":false},
          "axis":{"orient":"left","values":[0,0.2,0.4,0.6,0.8,1.0,1.2,1.4,1.6,1.8,2.0,2.2],"labelExpr":"round(datum.value*10)%4===0 ? format(datum.value,'.1f') : ''","title":"Fe/Mn","titleFontSize":20,"labelPadding":7,"titlePadding":4}}}},
   {"data":{"name":"cjlabel2"},"mark":{"type":"text","fontSize":22},
    "encoding":{
     "x":{"field":"age","type":"quantitative","axis":{"orient":"top","values":[0,10,20,30,40,50,60,70,80],"labels":false,"title":null}},
     "y":{"field":"ratio","type":"quantitative","axis":{"orient":"right","values":[0,0.2,0.4,0.6,0.8,1.0,1.2,1.4,1.6,1.8,2.0,2.2],"labels":false,"title":null}},
     "text":{"field":"label"}}}
  ]}
],
"spacing":6
}
